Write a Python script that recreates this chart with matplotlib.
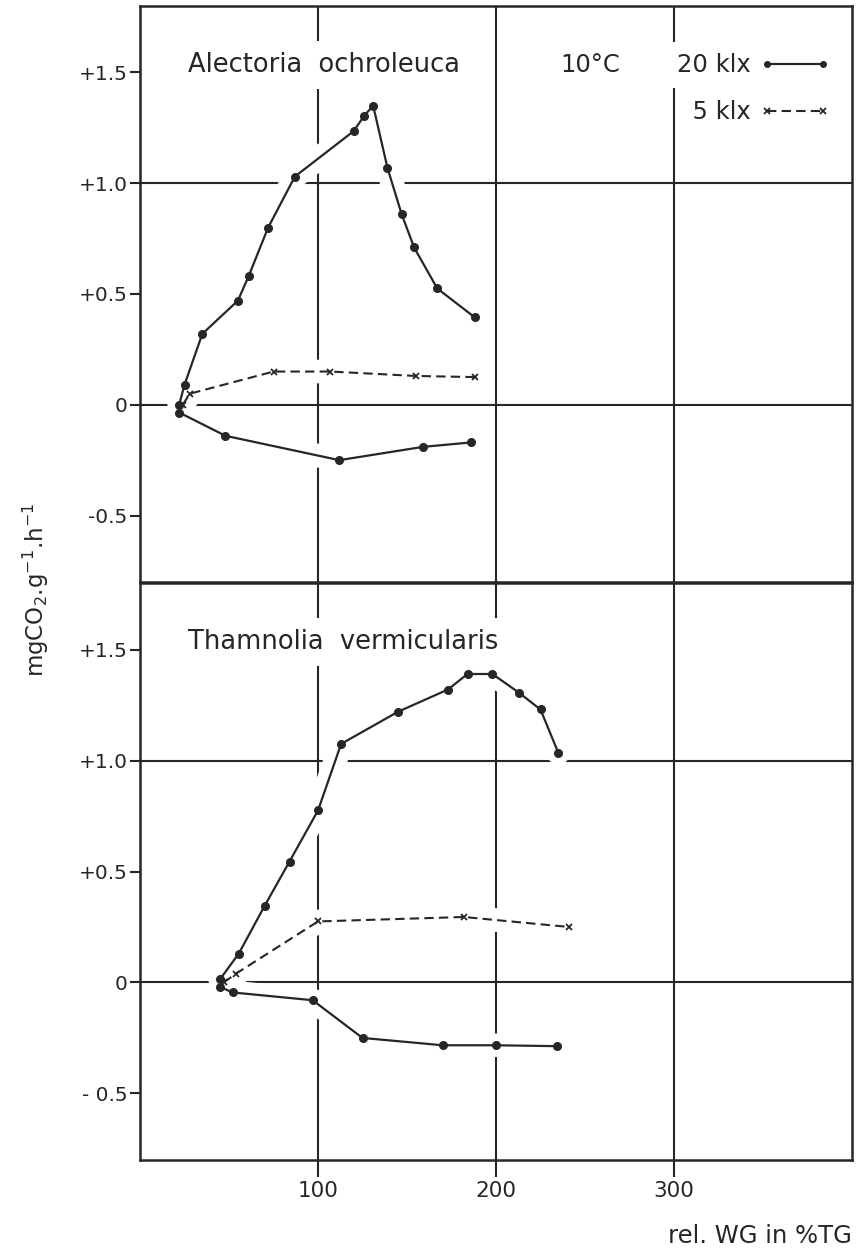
import matplotlib
matplotlib.use("Agg")
import matplotlib.pyplot as plt

# x = rel. WG in % TG, y = mgCO2 g-1 h-1
# Alectoria ochroleuca
alec_x20 = [22, 25, 35, 55, 61, 72, 87, 120, 126, 131, 139, 147, 154, 167, 188]
alec_y20 = [0.0, 0.09, 0.32, 0.47, 0.58, 0.80, 1.03, 1.235, 1.305, 1.35, 1.07, 0.86, 0.71, 0.525, 0.395]
alec_x5 = [24, 28, 75, 107, 155, 188]
alec_y5 = [0.0, 0.05, 0.15, 0.15, 0.13, 0.125]
alec_xdark = [22, 48, 112, 159, 186]
alec_ydark = [-0.035, -0.14, -0.25, -0.19, -0.17]

# Thamnolia vermicularis
tham_x20 = [45, 55.5, 70, 84, 100, 113, 145, 173, 184, 198, 213, 225, 235]
tham_y20 = [0.015, 0.13, 0.345, 0.545, 0.775, 1.075, 1.22, 1.32, 1.39, 1.39, 1.305, 1.23, 1.035]
tham_x5 = [47, 54, 100, 182, 241]
tham_y5 = [0.0, 0.04, 0.275, 0.295, 0.25]
tham_xdark = [45, 52, 97, 125, 170, 200, 234]
tham_ydark = [-0.02, -0.045, -0.08, -0.25, -0.283, -0.283, -0.287]

xticks = [100, 200, 300]
yticks = [-0.5, 0, 0.5, 1.0, 1.5]
ylabels_top = ["-0.5", "0", "+0.5", "+1.0", "+1.5"]
ylabels_bot = ["- 0.5", "0", "+0.5", "+1.0", "+1.5"]
grid_y = [0, 1.0]

ink = "#262626"

fig = plt.figure(figsize=(8.59, 12.49), dpi=100)
L, R = 140 / 859, 852 / 859
ax1 = fig.add_axes([L, 1 - 582 / 1249, R - L, (582 - 6) / 1249])
ax2 = fig.add_axes([L, 1 - 1160 / 1249, R - L, (1160 - 583) / 1249])


def panel(ax, xs, ys, title, ylabels):
    ax.set_xlim(0, 400)
    ax.set_ylim(-0.8, 1.8)
    for g in grid_y:
        ax.axhline(g, color=ink, lw=1.5, zorder=1)
    for g in xticks:
        ax.axvline(g, color=ink, lw=1.5, zorder=1)
    handles = []
    # white band under the curves -> gaps in the grid like the original
    for (x, y), style in zip(xs, ys):
        ax.plot(x, y, color="white", lw=17, solid_capstyle="round", zorder=2)
    for (x, y), style in zip(xs, ys):
        h, = ax.plot(x, y, zorder=3, **style)
        handles.append(h)
    ax.set_yticks(yticks)
    ax.set_yticklabels(ylabels)
    ax.set_xticks(xticks)
    ax.tick_params(axis="y", direction="out", length=7, width=1.5, colors=ink,
                   labelsize=14.5, pad=2)
    for s in ax.spines.values():
        s.set_linewidth(1.8)
        s.set_color(ink)
    ax.text(27, 1.535, title, fontsize=18.5, color=ink, va="center", ha="left",
            bbox=dict(facecolor="white", edgecolor="none", pad=8), zorder=4)
    return handles


solid = dict(color=ink, lw=1.6, marker="o", ms=5.5)
dashed = dict(color=ink, lw=1.5, ls=(0, (4.5, 2.5)), marker="x", ms=4.5, mew=1.3)

h = panel(ax1,
          [(alec_x20, alec_y20), (alec_x5, alec_y5), (alec_xdark, alec_ydark)],
          [solid, dashed, solid],
          "Alectoria  ochroleuca", ylabels_top)
panel(ax2,
      [(tham_x20, tham_y20), (tham_x5, tham_y5), (tham_xdark, tham_ydark)],
      [solid, dashed, solid],
      "Thamnolia  vermicularis", ylabels_bot)

ax1.tick_params(axis="x", length=0, labelbottom=False)
ax2.tick_params(axis="x", direction="out", length=12, width=1.5, colors=ink,
                labelsize=15.5, pad=3)

ax1.text(253, 1.535, "10°C", fontsize=17.5, color=ink, va="center", ha="center")
leg = ax1.legend([h[0], h[1]], ["20 klx", "  5 klx"], loc="upper right",
                 bbox_to_anchor=(0.969, 0.918), markerfirst=False, frameon=False,
                 numpoints=2, handlelength=2.9, handletextpad=0.35,
                 labelspacing=0.95, fontsize=17.5, borderaxespad=0, borderpad=0)
for t in leg.get_texts():
    t.set_color(ink)
leg.get_texts()[0].set_bbox(dict(facecolor="white", edgecolor="none", pad=8))
for lh in leg.get_lines():
    lh.set_markersize(4)

fig.text(36 / 859, 1 - 590 / 1249, r"mgCO$_2$.g$^{-1}$.h$^{-1}$", rotation=90,
         fontsize=16.5, color=ink, ha="center", va="center")
fig.text(852 / 859, 1 - 1236 / 1249, "rel. WG in %TG", fontsize=17.5, color=ink,
         ha="right", va="center")

fig.savefig("out.png", dpi=100, facecolor="white")
